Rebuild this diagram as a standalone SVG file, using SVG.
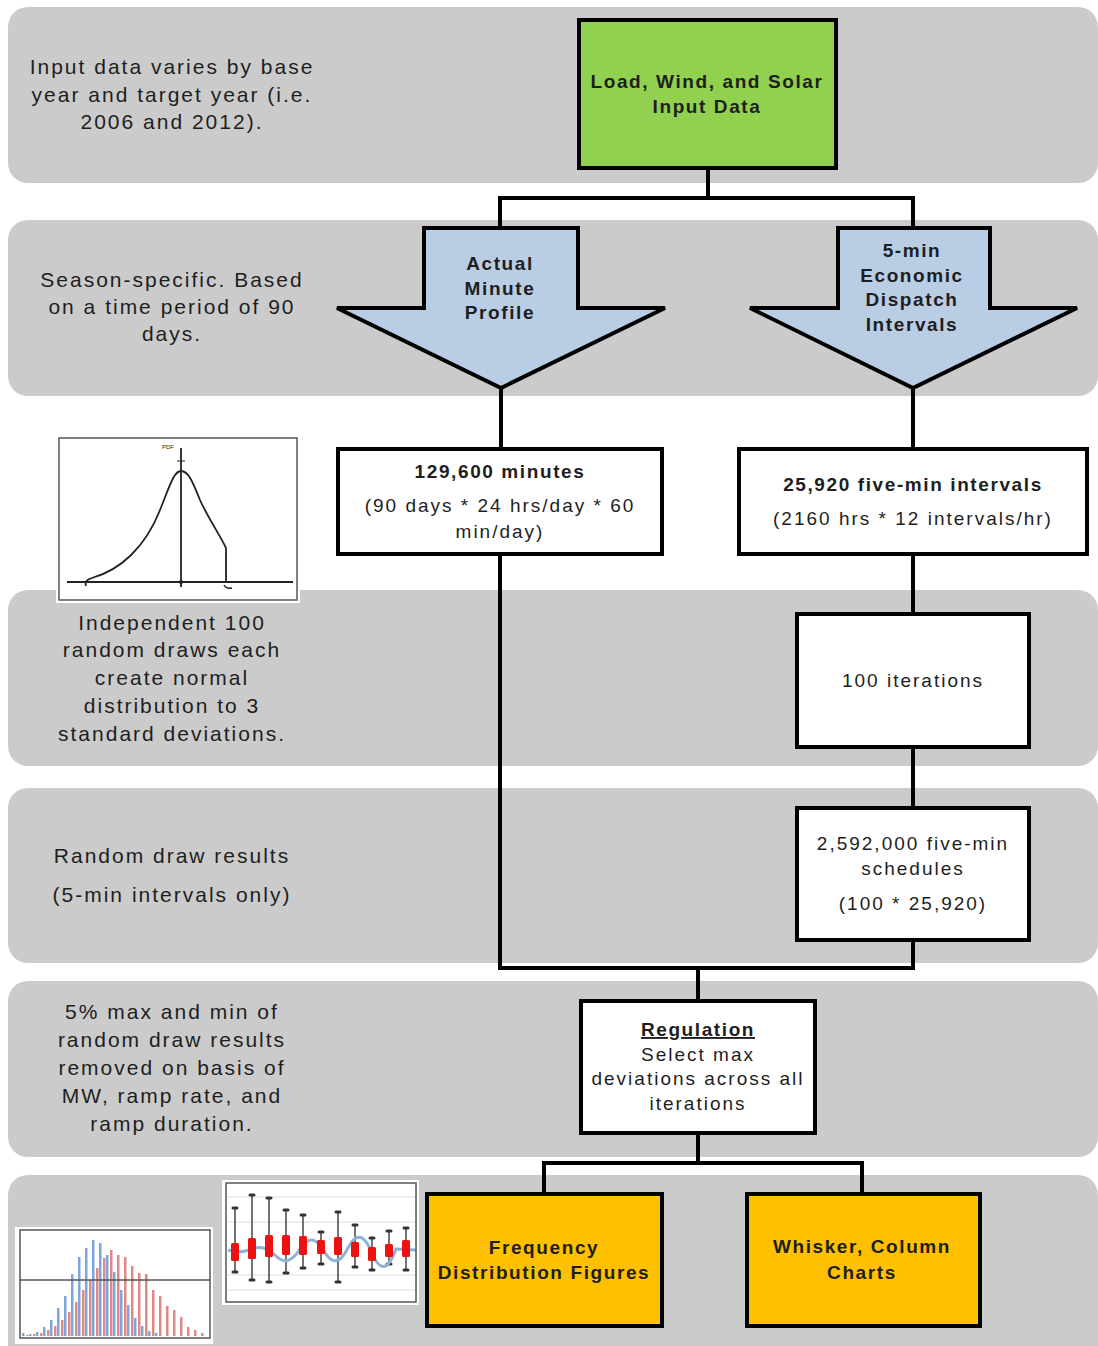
<svg xmlns="http://www.w3.org/2000/svg" width="1098" height="1346" viewBox="0 0 1098 1346">
<style>
.band{fill:#cbcbcb}
.lbl{font-family:"Liberation Sans",Arial,sans-serif;font-size:21px;fill:#1e1e1e;text-anchor:middle;letter-spacing:2px}
.bt{font-family:"Liberation Sans",Arial,sans-serif;font-size:19px;font-weight:bold;fill:#1e1e1e;text-anchor:middle;letter-spacing:1.6px}
.nt{font-family:"Liberation Sans",Arial,sans-serif;font-size:19px;fill:#1e1e1e;text-anchor:middle;letter-spacing:2px}
.box{stroke:#000;stroke-width:4;stroke-linejoin:miter}
.wbox{fill:#fff}
.con{fill:none;stroke:#000;stroke-width:4;stroke-linecap:square}
.frame{fill:none;stroke:#555;stroke-width:1.5}
.bb{fill:#7ea6da}
.rb{fill:#e08888}
.wk{stroke:#444;stroke-width:1.5}
.cap{stroke:#333;stroke-width:3;stroke-linecap:round}
.rbox{fill:#ee1111}
.grid{stroke:#ddd;stroke-width:1}
</style>

<g id="bands">
<rect class="band" x="8" y="7" width="1090" height="176" rx="20"/>
<rect class="band" x="8" y="220" width="1090" height="176" rx="20"/>
<rect class="band" x="8" y="590" width="1090" height="176" rx="20"/>
<rect class="band" x="8" y="788" width="1090" height="175" rx="20"/>
<rect class="band" x="8" y="981" width="1090" height="176" rx="20"/>
<rect class="band" x="8" y="1175" width="1090" height="190" rx="20"/>
</g>

<g id="side-labels">
<text class="lbl"><tspan x="172" y="74">Input data varies by base</tspan><tspan x="172" y="102">year and target year (i.e.</tspan><tspan x="172" y="129">2006 and 2012).</tspan></text>
<text class="lbl"><tspan x="172" y="287">Season-specific. Based</tspan><tspan x="172" y="314">on a time period of 90</tspan><tspan x="172" y="341">days.</tspan></text>
<text class="lbl"><tspan x="172" y="630">Independent 100</tspan><tspan x="172" y="657">random draws each</tspan><tspan x="172" y="685">create normal</tspan><tspan x="172" y="713">distribution to 3</tspan><tspan x="172" y="741">standard deviations.</tspan></text>
<text class="lbl"><tspan x="172" y="863">Random draw results</tspan><tspan x="172" y="902">(5-min intervals only)</tspan></text>
<text class="lbl"><tspan x="172" y="1019">5% max and min of</tspan><tspan x="172" y="1047">random draw results</tspan><tspan x="172" y="1075">removed on basis of</tspan><tspan x="172" y="1103">MW, ramp rate, and</tspan><tspan x="172" y="1131">ramp duration.</tspan></text>
</g>

<g id="bell-curve-image">
<rect x="56" y="435" width="244" height="168" fill="#fff"/>
<rect class="frame" x="59" y="438" width="238" height="162"/>
<line x1="67" y1="582" x2="293" y2="582" stroke="#222" stroke-width="1.8"/>
<line x1="181" y1="448" x2="181" y2="587" stroke="#222" stroke-width="1.8"/>
<path d="M86,586 Q84,580 92,578 C120,570 145,548 160,510 C170,485 174,471 181,471 C188,471 192,480 200,500 C208,518 220,535 226,548 L226,582" fill="none" stroke="#222" stroke-width="1.8"/>
<path d="M224,585 Q226,589 232,588" fill="none" stroke="#222" stroke-width="1.5"/>
<circle cx="181" cy="582" r="2" fill="#222"/>
<text x="168" y="449" font-family="Liberation Sans,Arial,sans-serif" font-size="6" fill="#222" text-anchor="middle">PDF</text>
<line x1="177" y1="461" x2="185" y2="461" stroke="#222" stroke-width="1"/>
</g>

<g id="histogram-image">
<rect x="15" y="1227" width="198" height="117" fill="#fff"/>
<g>
<rect class="bb" x="22" y="1333" width="2.5" height="3"/>
<rect class="bb" x="29" y="1334" width="2.5" height="2"/>
<rect class="bb" x="36" y="1332" width="2.5" height="4"/>
<rect class="bb" x="43" y="1327" width="2.5" height="9"/>
<rect class="bb" x="50" y="1320" width="2.5" height="16"/>
<rect class="bb" x="57" y="1308" width="2.5" height="28"/>
<rect class="bb" x="64" y="1296" width="2.5" height="40"/>
<rect class="bb" x="71" y="1274" width="2.5" height="62"/>
<rect class="bb" x="78" y="1257" width="2.5" height="79"/>
<rect class="bb" x="85" y="1248" width="2.5" height="88"/>
<rect class="bb" x="92" y="1240" width="2.5" height="96"/>
<rect class="bb" x="99" y="1243" width="2.5" height="93"/>
<rect class="bb" x="106" y="1255" width="2.5" height="81"/>
<rect class="bb" x="113" y="1272" width="2.5" height="64"/>
<rect class="bb" x="120" y="1290" width="2.5" height="46"/>
<rect class="bb" x="127" y="1305" width="2.5" height="31"/>
<rect class="bb" x="134" y="1318" width="2.5" height="18"/>
<rect class="bb" x="141" y="1326" width="2.5" height="10"/>
<rect class="bb" x="148" y="1331" width="2.5" height="5"/>
<rect class="bb" x="155" y="1333" width="2.5" height="3"/>
</g>
<g>
<rect class="rb" x="26" y="1335" width="2.5" height="1"/>
<rect class="rb" x="33" y="1334" width="2.5" height="2"/>
<rect class="rb" x="40" y="1333" width="2.5" height="3"/>
<rect class="rb" x="47" y="1330" width="2.5" height="6"/>
<rect class="rb" x="54" y="1326" width="2.5" height="10"/>
<rect class="rb" x="61" y="1320" width="2.5" height="16"/>
<rect class="rb" x="68" y="1312" width="2.5" height="24"/>
<rect class="rb" x="75" y="1302" width="2.5" height="34"/>
<rect class="rb" x="82" y="1290" width="2.5" height="46"/>
<rect class="rb" x="89" y="1280" width="2.5" height="56"/>
<rect class="rb" x="96" y="1268" width="2.5" height="68"/>
<rect class="rb" x="103" y="1258" width="2.5" height="78"/>
<rect class="rb" x="110" y="1250" width="2.5" height="86"/>
<rect class="rb" x="117" y="1255" width="2.5" height="81"/>
<rect class="rb" x="124" y="1257" width="2.5" height="79"/>
<rect class="rb" x="131" y="1266" width="2.5" height="70"/>
<rect class="rb" x="138" y="1273" width="2.5" height="63"/>
<rect class="rb" x="145" y="1274" width="2.5" height="62"/>
<rect class="rb" x="152" y="1290" width="2.5" height="46"/>
<rect class="rb" x="159" y="1296" width="2.5" height="40"/>
<rect class="rb" x="166" y="1306" width="2.5" height="30"/>
<rect class="rb" x="173" y="1310" width="2.5" height="26"/>
<rect class="rb" x="180" y="1317" width="2.5" height="19"/>
<rect class="rb" x="187" y="1327" width="2.5" height="9"/>
<rect class="rb" x="194" y="1330" width="2.5" height="6"/>
<rect class="rb" x="201" y="1333" width="2.5" height="3"/>
</g>
<line x1="20" y1="1280" x2="210" y2="1280" stroke="#555" stroke-width="1.5"/>
<rect class="frame" x="20" y="1230" width="190" height="108"/>
</g>

<g id="whisker-image">
<rect x="222" y="1180" width="197" height="125" fill="#fff"/>
<line class="grid" x1="227" y1="1197" x2="415" y2="1197"/>
<line class="grid" x1="227" y1="1222" x2="415" y2="1222"/>
<line class="grid" x1="227" y1="1275" x2="415" y2="1275"/>
<line class="grid" x1="227" y1="1290" x2="415" y2="1290"/>
<g>
<line class="wk" x1="235" y1="1208" x2="235" y2="1272"/><line class="cap" x1="233" y1="1208" x2="237" y2="1208"/><line class="cap" x1="233" y1="1272" x2="237" y2="1272"/>
<line class="wk" x1="252" y1="1195" x2="252" y2="1280"/><line class="cap" x1="250" y1="1195" x2="254" y2="1195"/><line class="cap" x1="250" y1="1280" x2="254" y2="1280"/>
<line class="wk" x1="269" y1="1198" x2="269" y2="1282"/><line class="cap" x1="267" y1="1198" x2="271" y2="1198"/><line class="cap" x1="267" y1="1282" x2="271" y2="1282"/>
<line class="wk" x1="286" y1="1210" x2="286" y2="1273"/><line class="cap" x1="284" y1="1210" x2="288" y2="1210"/><line class="cap" x1="284" y1="1273" x2="288" y2="1273"/>
<line class="wk" x1="303" y1="1215" x2="303" y2="1268"/><line class="cap" x1="301" y1="1215" x2="305" y2="1215"/><line class="cap" x1="301" y1="1268" x2="305" y2="1268"/>
<line class="wk" x1="321" y1="1232" x2="321" y2="1264"/><line class="cap" x1="319" y1="1232" x2="323" y2="1232"/><line class="cap" x1="319" y1="1264" x2="323" y2="1264"/>
<line class="wk" x1="338" y1="1212" x2="338" y2="1282"/><line class="cap" x1="336" y1="1212" x2="340" y2="1212"/><line class="cap" x1="336" y1="1282" x2="340" y2="1282"/>
<line class="wk" x1="355" y1="1225" x2="355" y2="1267"/><line class="cap" x1="353" y1="1225" x2="357" y2="1225"/><line class="cap" x1="353" y1="1267" x2="357" y2="1267"/>
<line class="wk" x1="372" y1="1238" x2="372" y2="1270"/><line class="cap" x1="370" y1="1238" x2="374" y2="1238"/><line class="cap" x1="370" y1="1270" x2="374" y2="1270"/>
<line class="wk" x1="389" y1="1231" x2="389" y2="1264"/><line class="cap" x1="387" y1="1231" x2="391" y2="1231"/><line class="cap" x1="387" y1="1264" x2="391" y2="1264"/>
<line class="wk" x1="406" y1="1228" x2="406" y2="1270"/><line class="cap" x1="404" y1="1228" x2="408" y2="1228"/><line class="cap" x1="404" y1="1270" x2="408" y2="1270"/>
</g>
<path d="M228,1250 Q240,1254 252,1249 T276,1256 T300,1249 T324,1251 T348,1248 T372,1253 T396,1249 L416,1250" fill="none" stroke="#8fb2d8" stroke-width="3"/>
<g>
<rect class="rbox" x="231" y="1243" width="8" height="18" rx="1.5"/>
<rect class="rbox" x="248" y="1238" width="8" height="21" rx="1.5"/>
<rect class="rbox" x="265" y="1235" width="8" height="22" rx="1.5"/>
<rect class="rbox" x="282" y="1235" width="8" height="20" rx="1.5"/>
<rect class="rbox" x="299" y="1236" width="8" height="19" rx="1.5"/>
<rect class="rbox" x="317" y="1240" width="8" height="14" rx="1.5"/>
<rect class="rbox" x="334" y="1237" width="8" height="18" rx="1.5"/>
<rect class="rbox" x="351" y="1242" width="8" height="15" rx="1.5"/>
<rect class="rbox" x="368" y="1247" width="8" height="14" rx="1.5"/>
<rect class="rbox" x="385" y="1244" width="8" height="13" rx="1.5"/>
<rect class="rbox" x="402" y="1240" width="8" height="17" rx="1.5"/>
</g>
<rect class="frame" x="226" y="1183" width="190" height="119"/>
</g>

<g id="connectors">
<path class="con" d="M708,168 V198"/>
<path class="con" d="M500,228 V198 H913 V228"/>
<path class="con" d="M501,388 V448"/>
<path class="con" d="M913,388 V448"/>
<path class="con" d="M500,555 V968 H913 V940"/>
<path class="con" d="M913,555 V613"/>
<path class="con" d="M913,748 V807"/>
<path class="con" d="M698,968 V1000"/>
<path class="con" d="M698,1134 V1163"/>
<path class="con" d="M544,1193 V1163 H862 V1193"/>
</g>

<g id="node-input-data">
<rect class="box" x="579" y="20" width="257" height="148" fill="#92d050"/>
<text class="bt"><tspan x="707" y="88">Load, Wind, and Solar</tspan><tspan x="707" y="113">Input Data</tspan></text>
</g>

<g id="node-actual-minute">
<polygon class="box" fill="#b9cde5" points="424,228 578,228 578,308 665,308 501,388 337,308 424,308"/>
<text class="bt"><tspan x="500" y="270">Actual</tspan><tspan x="500" y="295">Minute</tspan><tspan x="500" y="319">Profile</tspan></text>
</g>

<g id="node-5min-ed">
<polygon class="box" fill="#b9cde5" points="838,228 990,228 990,308 1077,308 913,388 750,308 838,308"/>
<text class="bt"><tspan x="912" y="257">5-min</tspan><tspan x="912" y="282">Economic</tspan><tspan x="912" y="306">Dispatch</tspan><tspan x="912" y="331">Intervals</tspan></text>
</g>

<g id="node-129600">
<rect class="box wbox" x="338" y="449" width="324" height="105"/>
<text class="bt" x="500" y="478">129,600 minutes</text>
<text class="nt"><tspan x="500" y="512">(90 days * 24 hrs/day * 60</tspan><tspan x="500" y="538">min/day)</tspan></text>
</g>

<g id="node-25920">
<rect class="box wbox" x="739" y="449" width="348" height="105"/>
<text class="bt" x="913" y="491">25,920 five-min intervals</text>
<text class="nt" x="913" y="525">(2160 hrs * 12 intervals/hr)</text>
</g>

<g id="node-100-iterations">
<rect class="box wbox" x="797" y="614" width="232" height="133"/>
<text class="nt" x="913" y="687">100 iterations</text>
</g>

<g id="node-2592000">
<rect class="box wbox" x="797" y="808" width="232" height="132"/>
<text class="nt"><tspan x="913" y="850">2,592,000 five-min</tspan><tspan x="913" y="875">schedules</tspan><tspan x="913" y="910">(100 * 25,920)</tspan></text>
</g>

<g id="node-regulation">
<rect class="box wbox" x="581" y="1001" width="234" height="132"/>
<text class="bt" x="698" y="1036" text-decoration="underline">Regulation</text>
<text class="nt"><tspan x="698" y="1061">Select max</tspan><tspan x="698" y="1085">deviations across all</tspan><tspan x="698" y="1110">iterations</tspan></text>
</g>

<g id="node-frequency">
<rect class="box" x="427" y="1194" width="235" height="132" fill="#ffc000"/>
<text class="bt"><tspan x="544" y="1254">Frequency</tspan><tspan x="544" y="1279">Distribution Figures</tspan></text>
</g>

<g id="node-whisker">
<rect class="box" x="747" y="1194" width="233" height="132" fill="#ffc000"/>
<text class="bt"><tspan x="862" y="1253">Whisker, Column</tspan><tspan x="862" y="1279">Charts</tspan></text>
</g>
</svg>
